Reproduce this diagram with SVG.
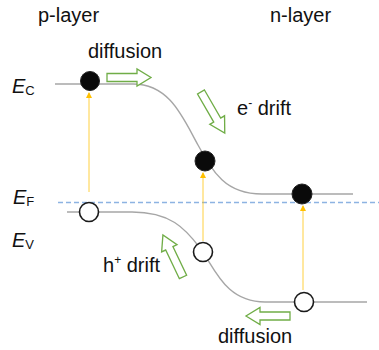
<svg xmlns="http://www.w3.org/2000/svg" width="379" height="350" viewBox="0 0 379 350">
<style>
text{font-family:"Liberation Sans",Arial,sans-serif;fill:#111;}
.lbl{font-size:20px;}
.E{font-size:20px;font-style:italic;}
.sub{font-size:13px;font-style:normal;}
.sup{font-size:12px;}
.band{fill:none;stroke:#a6a6a6;stroke-width:1.4;}
.ef{fill:none;stroke:#8db3e2;stroke-width:1.3;stroke-dasharray:5,3;}
.el{fill:#0a0a0a;stroke:#222;stroke-width:1;}
.hole{fill:#fff;stroke:#1a1a1a;stroke-width:1.6;}
.ex{fill:none;stroke:#ffc000;stroke-width:1;stroke-opacity:0.75;}
.ga{fill:#fff;stroke:#70ad47;stroke-width:1.3;stroke-linejoin:miter;}
</style>
<defs>
<marker id="ya" markerWidth="6" markerHeight="6" refX="5" refY="3" orient="auto" markerUnits="userSpaceOnUse">
<path d="M0,0 L6,3 L0,6 Z" fill="#ffc000"/>
</marker>
<path id="blk" d="M0,-4 L30,-4 L30,-8.5 L44,0 L30,8.5 L30,4 L0,4 Z"/>
</defs>
<rect width="379" height="350" fill="#fff"/>

<g id="bands">
<path class="band" d="M55,84 L133,84 C170,84 183,118 198,145 S225,194 262,194 L353,194"/>
<path class="band" d="M67,212 L132,212 C170,212 185,228 200,248 S225,302 265,302 L367,302"/>
<path class="ef" d="M58,202.5 L379,202.5"/>
</g>

<g id="connectors">
<line class="ex" x1="89" y1="192" x2="89" y2="93" marker-end="url(#ya)"/>
<line class="ex" x1="203" y1="241" x2="203" y2="173" marker-end="url(#ya)"/>
<line class="ex" x1="303" y1="290" x2="303" y2="206" marker-end="url(#ya)"/>
<use href="#blk" class="ga" transform="translate(107,77.5)"/>
<use href="#blk" class="ga" transform="translate(201,92) rotate(60) scale(1.08,1)"/>
<use href="#blk" class="ga" transform="translate(183,277) rotate(-115.5) scale(1.06,1)"/>
<use href="#blk" class="ga" transform="translate(290,316) rotate(180)"/>
</g>

<g id="electron-p"><circle class="el" cx="90" cy="81" r="9.5"/></g>
<g id="electron-mid"><circle class="el" cx="205" cy="161" r="10"/></g>
<g id="electron-n"><circle class="el" cx="302" cy="194" r="10"/></g>
<g id="hole-p"><circle class="hole" cx="89" cy="212" r="9.5"/></g>
<g id="hole-mid"><circle class="hole" cx="203" cy="252" r="9.5"/></g>
<g id="hole-n"><circle class="hole" cx="304" cy="302" r="9.5"/></g>

<g id="label-p"><text class="lbl" x="38" y="22">p-layer</text></g>
<g id="label-n"><text class="lbl" x="270" y="22">n-layer</text></g>
<g id="label-diff-top"><text class="lbl" x="88" y="58">diffusion</text></g>
<g id="label-diff-bot"><text class="lbl" x="218" y="343">diffusion</text></g>
<g id="label-edrift"><text class="lbl" x="237" y="115">e<tspan class="sup" dy="-8">-</tspan><tspan dy="8"> drift</tspan></text></g>
<g id="label-hdrift"><text class="lbl" x="103" y="272">h<tspan class="sup" dy="-8">+</tspan><tspan dy="8"> drift</tspan></text></g>
<g id="label-EC"><text class="E" x="12" y="93">E<tspan class="sub" dy="2">C</tspan></text></g>
<g id="label-EF"><text class="E" x="13" y="204">E<tspan class="sub" dy="2">F</tspan></text></g>
<g id="label-EV"><text class="E" x="12" y="247">E<tspan class="sub" dy="2">V</tspan></text></g>
</svg>
